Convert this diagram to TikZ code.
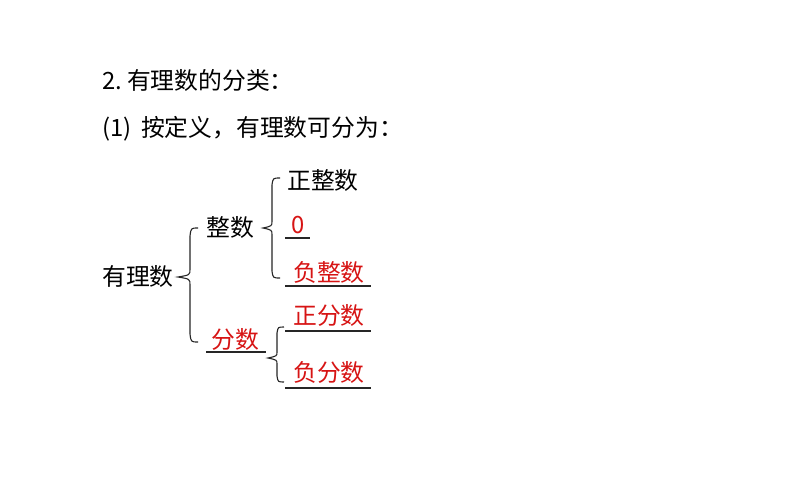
\documentclass[tikz,border=0pt]{standalone}
\usepackage{fontspec}
\setmainfont{Noto Sans CJK SC}
\definecolor{ansred}{RGB}{215,20,20}
\tikzset{
  txt/.style={anchor=west, inner sep=0pt, font=\fontsize{23.8}{24}\selectfont},
  ans/.style={txt, text=ansred},
  uline/.style={draw=black!85, line width=1.1pt},
  bracepath/.style={draw=black!85, line width=1.1pt}
}
\begin{document}
\begin{tikzpicture}[x=1pt,y=-1pt]
\useasboundingbox[fill=white] (0,0) rectangle (794,495);
% headings
\node[txt] (title) at (102,80) {\makebox[25pt][l]{2.}有理数的分类：};
\node[txt] (sub) at (102,129) {\makebox[39pt][l]{(1)}按定义，有理数可分为：};
% tree texts
\node[txt] (root) at (102,276) {有理数};
\node[txt] (int) at (206,227) {整数};
\node[txt] (posint) at (287,180) {正整数};
\node[ans] (zero) at (291,225) {0};
\node[ans] (negint) at (293,272) {负整数};
\node[ans] (frac) at (211,339) {分数};
\node[ans] (posfrac) at (293,315) {正分数};
\node[ans] (negfrac) at (293,372) {负分数};
% underlines
\draw[uline] (285,238) -- (310,238);
\draw[uline] (285,286) -- (371,286);
\draw[uline] (285,331) -- (371,331);
\draw[uline] (206,352) -- (266,352);
\draw[uline] (285,388) -- (371,388);
% big brace
\draw[bracepath] (198,228) .. controls (191,228) .. (190,236) -- (190,269)
  .. controls (190,275) .. (178,277) .. controls (190,279) .. (190,285)
  -- (190,334) .. controls (191,342) .. (198,342);
% integer brace
\draw[bracepath] (280,178) .. controls (273,178) .. (272,185) -- (272,221)
  .. controls (272,226) .. (263,228) .. controls (272,230) .. (272,235)
  -- (272,271) .. controls (273,278) .. (280,278);
% fraction brace
\draw[bracepath] (284,327) .. controls (278,327) .. (277,333) -- (277,352)
  .. controls (277,356) .. (268,358) .. controls (277,360) .. (277,364)
  -- (277,376) .. controls (278,382) .. (284,382);
\end{tikzpicture}
\end{document}
